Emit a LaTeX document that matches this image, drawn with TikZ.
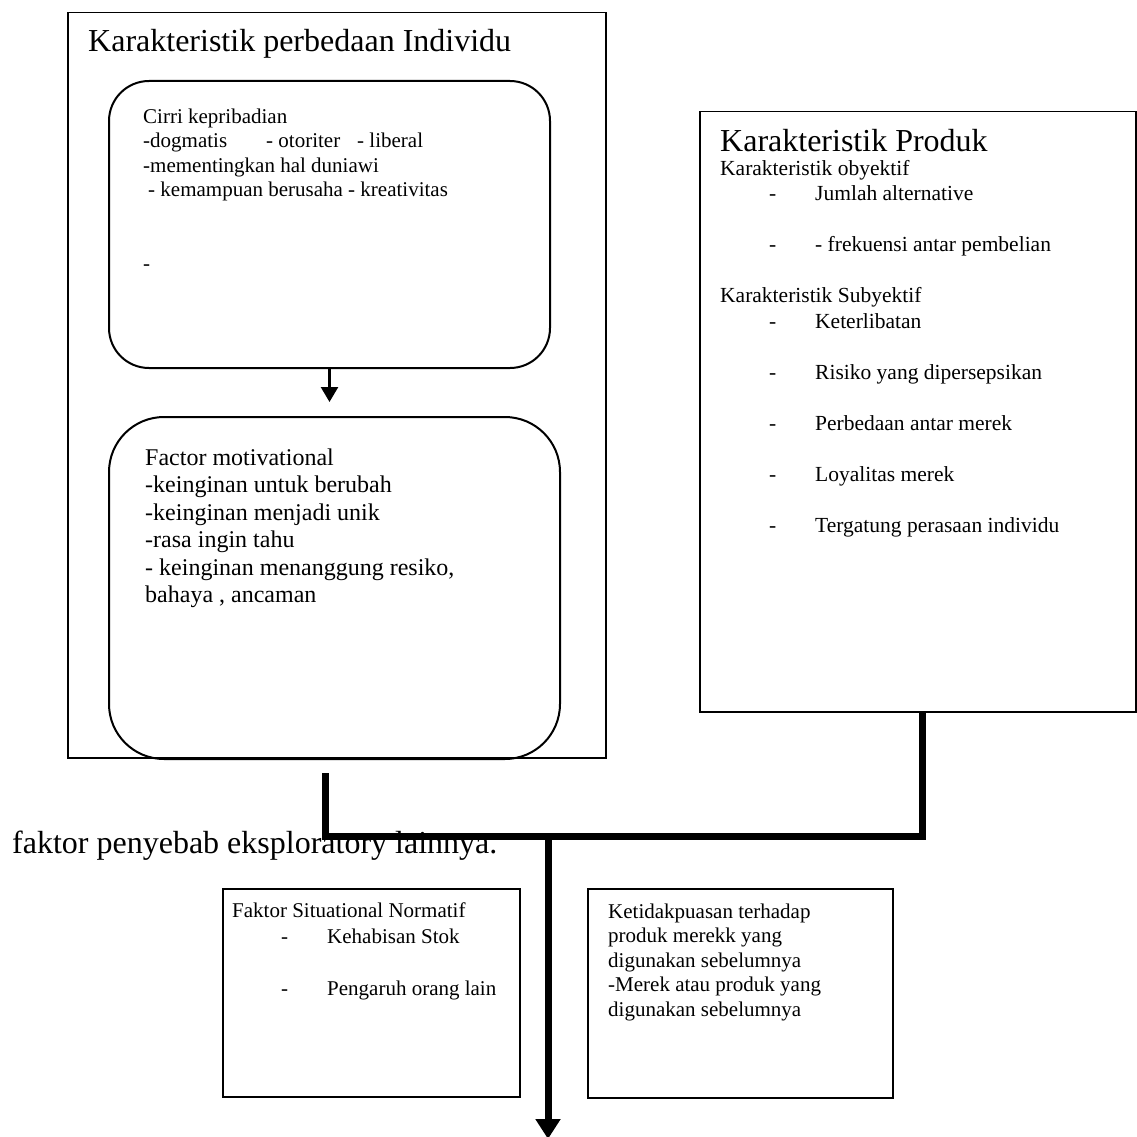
\documentclass[tikz,border=0pt]{standalone}
\usepackage{fontspec}
\setmainfont{Liberation Serif}
\usetikzlibrary{arrows.meta,positioning}
\definecolor{ink}{HTML}{000000}
\tikzset{
  frame/.style={draw=ink,line width=1.5pt,inner sep=0pt,anchor=north west},
  roundbox/.style={frame,line width=2pt,rounded corners=40pt},
  heading/.style={font=\fontsize{32}{36}\selectfont,inner sep=0pt,anchor=base west},
  body/.style={font=\fontsize{21}{24.5}\selectfont,align=left,inner sep=0pt,anchor=base west},
  flow/.style={-{Triangle[width=17pt,length=15pt]},line width=2.5pt,draw=ink},
  bar/.style={line width=7pt,draw=ink},
  bigflow/.style={bar,-{Triangle[width=24pt,length=20pt]}},
}
\newcommand{\dashitem}[1]{\hspace*{49pt}\makebox[46pt][l]{-}#1}

\begin{document}
\begin{tikzpicture}[x=1pt,y=-1pt]
  \useasboundingbox (0,0) rectangle (1136,1137);
  % individual differences (text nodes sit on their last baseline)
  \node[frame,minimum width=538pt,minimum height=745pt] (indiv) at (67,12) {};
  \node[heading] (indivtitle) at (88,52) {Karakteristik perbedaan Individu};
  \node[roundbox,minimum width=441pt,minimum height=287pt] (cirri) at (108,80) {};
  \node[body] (cirritext) at (143,270)
    {Cirri kepribadian\\
     \makebox[123pt][l]{-dogmatis}\makebox[91pt][l]{- otoriter}- liberal\\
     -mementingkan hal duniawi\\
     \hspace*{5pt}- kemampuan berusaha - kreativitas\\[49pt]
     -};
  \node[roundbox,rounded corners=55pt,minimum width=451pt,minimum height=342pt] (motiv) at (108,416) {};
  \node[body,font=\fontsize{24}{27.5}\selectfont] (motivtext) at (145,602.5)
    {Factor motivational\\-keinginan untuk berubah\\-keinginan menjadi unik\\
     -rasa ingin tahu\\- keinginan menanggung resiko,\\bahaya , ancaman};
  \draw[flow,shorten >=14pt] (cirri.south) -- (cirri.south |- motiv.north);
  % product
  \node[frame,minimum width=436pt,minimum height=600pt] (produk) at (699,111) {};
  \node[heading] (produktitle) at (720,151) {Karakteristik Produk};
  \node[body,font=\fontsize{21.5}{25.5}\selectfont] (produktext) at (720,532)
    {Karakteristik obyektif\\
     \dashitem{Jumlah alternative}\\[25.5pt]
     \dashitem{- frekuensi antar pembelian}\\[25.5pt]
     Karakteristik Subyektif\\
     \dashitem{Keterlibatan}\\[25.5pt]
     \dashitem{Risiko yang dipersepsikan}\\[25.5pt]
     \dashitem{Perbedaan antar merek}\\[25.5pt]
     \dashitem{Loyalitas merek}\\[25.5pt]
     \dashitem{Tergatung perasaan individu}};
  % other factors
  \node[heading] (lainnya) at (12,853) {faktor penyebab eksploratory lainnya.};
  \node[frame,minimum width=297pt,minimum height=208pt] (situ) at (222,888) {};
  \node[body,font=\fontsize{21}{26}\selectfont] (situtext) at (232,995)
    {Faktor Situational Normatif\\
     \dashitem{Kehabisan Stok}\\[26pt]
     \dashitem{Pengaruh orang lain}};
  \node[frame,minimum width=305pt,minimum height=209pt] (ketid) at (587,888) {};
  \node[body] (ketidtext) at (608,1016)
    {Ketidakpuasan terhadap\\produk merekk yang\\digunakan sebelumnya\\
     -Merek atau produk yang\\digunakan sebelumnya};
  % thick connectors
  \coordinate (lstart) at (325,773);
  \coordinate (rstart) at (922,713);
  \coordinate (join) at (548,836);
  \coordinate (finish) at (548,1139);
  \draw[bar] (lstart) |- (join) -| (rstart);
  \draw[bigflow] (join) -- (finish);
\end{tikzpicture}
\end{document}
